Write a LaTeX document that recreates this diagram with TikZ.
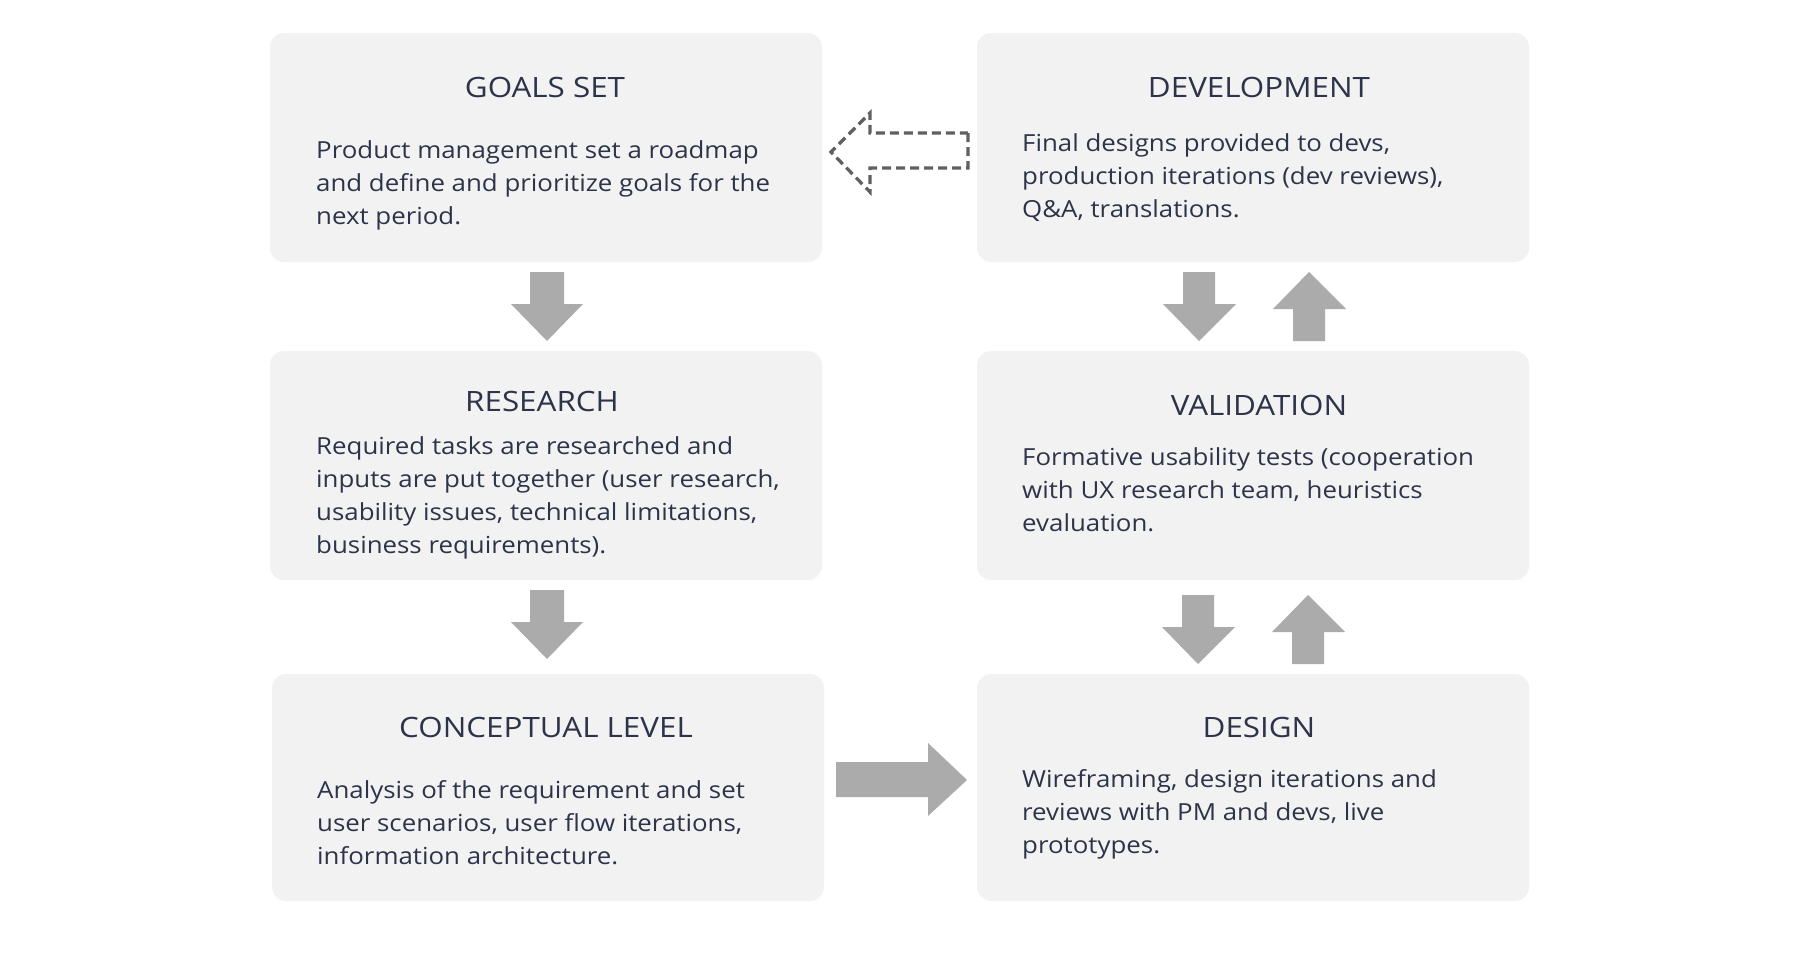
\documentclass[tikz,border=0pt]{standalone}
\usepackage{fontspec}
\setmainfont{Open Sans}
\newfontfamily\bodyfont[FakeStretch=1.1]{Open Sans}
\newfontfamily\titlefont[FakeStretch=1.12]{Open Sans}
\definecolor{boxfill}{HTML}{F2F2F2}
\definecolor{arrfill}{HTML}{ABABAB}
\definecolor{txt}{HTML}{2D3349}
\definecolor{dashgray}{HTML}{606060}
\begin{document}
\begin{tikzpicture}[x=1pt,y=-1pt,
  panel/.style={fill=boxfill,rounded corners=14pt},
  ttl/.style={text=txt,font=\titlefont\fontsize{28}{32}\selectfont,inner sep=0pt,anchor=center},
  body/.style={text=txt,font=\bodyfont\fontsize{23.5}{33}\selectfont,inner sep=0pt,anchor=north west,align=left},
  blk/.style={fill=arrfill},
]
\useasboundingbox (0,0) rectangle (1800,953);
% panels
\fill[panel] (270,33) rectangle (822,262);
\fill[panel] (977,33) rectangle (1529,262);
\fill[panel] (270,351) rectangle (822,580);
\fill[panel] (977,351) rectangle (1529,580);
\fill[panel] (272,674) rectangle (824,901);
\fill[panel] (977,674) rectangle (1529,901);
% titles
\node[ttl] (tg) at (545,87) {GOALS SET};
\node[ttl] (td) at (1259,87) {DEVELOPMENT};
\node[ttl] (tr) at (542,401) {RESEARCH};
\node[ttl] (tv) at (1259,405) {VALIDATION};
\node[ttl] (tc) at (546,727) {CONCEPTUAL LEVEL};
\node[ttl] (tds) at (1259,727) {DESIGN};
% bodies
\node[body] (bg) at (316,140) {Product management set a roadmap\\and define and prioritize goals for the\\next period.};
\node[body] (bd) at (1022,133) {Final designs provided to devs,\\production iterations (dev reviews),\\Q\&A, translations.};
\node[body] (br) at (316,436) {Required tasks are researched and\\inputs are put together (user research,\\usability issues, technical limitations,\\business requirements).};
\node[body] (bv) at (1022,447) {Formative usability tests (cooperation\\with UX research team, heuristics\\evaluation.};
\node[body] (bc) at (317,780) {Analysis of the requirement and set\\user scenarios, user flow iterations,\\information architecture.};
\node[body] (bds) at (1022,769) {Wireframing, design iterations and\\reviews with PM and devs, live\\prototypes.};
% down arrows left column
\fill[blk] (530,272) -- (564,272) -- (564,304) -- (583,304) -- (547,341) -- (511,304) -- (530,304) -- cycle;
\fill[blk] (530,590) -- (564,590) -- (564,622) -- (583,622) -- (547,659) -- (511,622) -- (530,622) -- cycle;
% right arrow
\fill[blk] (836,762) -- (928,762) -- (928,743) -- (967,780) -- (928,816) -- (928,797) -- (836,797) -- cycle;
% dev/validation pair
\fill[blk] (1183,272) -- (1215,272) -- (1215,304) -- (1236,304) -- (1199,341) -- (1163,304) -- (1183,304) -- cycle;
\fill[blk] (1293,341) -- (1325,341) -- (1325,309) -- (1346,309) -- (1309,272) -- (1273,309) -- (1293,309) -- cycle;
% validation/design pair
\fill[blk] (1182,595) -- (1214,595) -- (1214,627) -- (1235,627) -- (1198,664) -- (1162,627) -- (1182,627) -- cycle;
\fill[blk] (1292,664) -- (1324,664) -- (1324,632) -- (1345,632) -- (1308,595) -- (1272,632) -- (1292,632) -- cycle;
% dashed outline arrow
\draw[draw=dashgray,line width=3.2pt,dash pattern=on 9pt off 5pt,line join=miter]
  (968,133) -- (968,168) -- (870,168) -- (870,192) -- (831,152) -- (870,113) -- (870,133) -- cycle;
\end{tikzpicture}
\end{document}
